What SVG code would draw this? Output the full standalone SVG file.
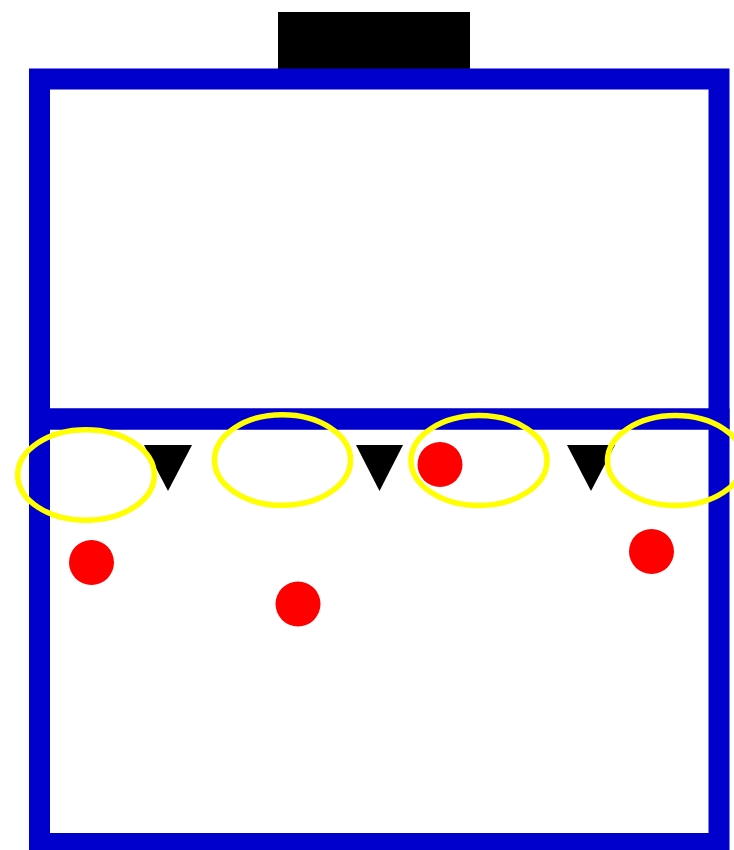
<svg xmlns="http://www.w3.org/2000/svg" width="734" height="850" viewBox="0 0 734 850">
<style>
.frame{fill:none;stroke:#0000cc;stroke-width:21}
.ring{fill:none;stroke:#ffff00;stroke-width:5.5}
.tri{fill:#000}
.dot{fill:#ff0000}
</style>
<rect width="734" height="850" fill="#fff"/>
<g id="block"><rect x="278" y="12" width="192" height="57" fill="#000"/></g>
<g id="frame">
<rect class="frame" x="39.5" y="79" width="679.5" height="340"/>
<rect class="frame" x="39.5" y="419" width="679.5" height="424.5"/>
</g>
<g id="triangles">
<polygon class="tri" points="144,445 192,445 168,491"/>
<polygon class="tri" points="356,445 403,445 379.5,491"/>
<polygon class="tri" points="567,445 615,445 591,491"/>
</g>
<g id="rings">
<ellipse class="ring" cx="86" cy="475" rx="68.3" ry="45.3"/>
<ellipse class="ring" cx="282.5" cy="460" rx="68" ry="45.3"/>
<ellipse class="ring" cx="479" cy="460.5" rx="68" ry="45"/>
<ellipse class="ring" cx="675.5" cy="460.5" rx="68" ry="45"/>
</g>
<g id="dots">
<circle class="dot" cx="91.5" cy="562.5" r="22.5"/>
<circle class="dot" cx="298" cy="604" r="22.5"/>
<circle class="dot" cx="440" cy="464.5" r="22.5"/>
<circle class="dot" cx="651.5" cy="551.5" r="22.5"/>
</g>
</svg>
